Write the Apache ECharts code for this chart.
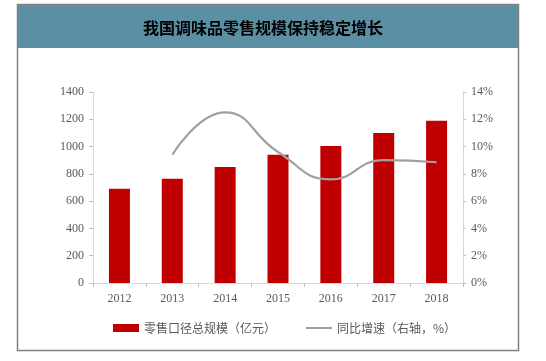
<!DOCTYPE html>
<html><head><meta charset="utf-8">
<script src="https://cdn.jsdelivr.net/npm/echarts@6/dist/echarts.min.js"></script>
<style>html,body{margin:0;padding:0;background:#fff}#c{width:546px;height:361px}</style>
</head><body><div id="c"></div>
<script>
var years = ['2012','2013','2014','2015','2016','2017','2018'];
var retailScale = [690, 765, 850, 940, 1005, 1100, 1190];
var growthRate = [null, 9.4, 12.5, 9.6, 7.6, 9.0, 8.85];
var leftTicks = [0, 200, 400, 600, 800, 1000, 1200, 1400];
var rightTicks = [0, 2, 4, 6, 8, 10, 12, 14];

var chart = echarts.init(document.getElementById('c'), null, {renderer:'canvas'});
var axisFont = {color:'#595959', fontFamily:'Liberation Serif', fontSize:12};
chart.setOption({
  animation:false,
  backgroundColor:'#fff',
  graphic:[
    {type:'rect', z:-10, shape:{x:17.5,y:4.5,width:501,height:346}, style:{fill:'#fff', stroke:'#808080', lineWidth:1.5}},
    {type:'rect', z:-9, shape:{x:18,y:5,width:500,height:43}, style:{fill:'#5b8fa4'}}
  ],
  title:{text:'我国调味品零售规模保持稳定增长', left:258, top:15, textAlign:'center',
    textStyle:{fontFamily:'Noto Sans CJK SC', fontWeight:'bold', fontSize:16, color:'#000'}},
  grid:{left:93, right:83, top:92, bottom:78},
  legend:{left:108, top:317, itemWidth:26, itemHeight:8, itemGap:30,
    textStyle:{fontFamily:'Noto Sans CJK SC', fontSize:12, color:'#595959'},
    data:[{name:'零售口径总规模（亿元）', icon:'rect'},
          {name:'同比增速（右轴，%）', icon:'path://M0,0h26v2h-26z'}]},
  xAxis:{type:'category', data:years,
    axisLine:{lineStyle:{color:'#d9d9d9'}},
    axisTick:{show:true, alignWithLabel:false, lineStyle:{color:'#bfbfbf'}, length:4},
    axisLabel:Object.assign({margin:10}, axisFont)},
  yAxis:[
    {type:'value', min:0, max:1400, interval:200,
      axisLine:{show:true, lineStyle:{color:'#d9d9d9'}},
      axisTick:{show:true, length:4, lineStyle:{color:'#bfbfbf'}},
      splitLine:{show:false},
      axisLabel:Object.assign({margin:9, formatter:function(v){return leftTicks.indexOf(v)>=0? String(v):'';}}, axisFont)},
    {type:'value', min:0, max:14, interval:2, position:'right',
      axisLine:{show:true, lineStyle:{color:'#d9d9d9'}},
      axisTick:{show:true, length:3, lineStyle:{color:'#bfbfbf'}},
      splitLine:{show:false},
      axisLabel:Object.assign({margin:8, formatter:function(v){return rightTicks.indexOf(v)>=0? v+'%':'';}}, axisFont)}
  ],
  series:[
    {name:'零售口径总规模（亿元）', type:'bar', data:retailScale, barWidth:21,
      itemStyle:{color:'#c00000'}},
    {name:'同比增速（右轴，%）', type:'line', yAxisIndex:1, data:growthRate, smooth:0.5,
      symbol:'none', connectNulls:false,
      lineStyle:{color:'#a0a0a0', width:2.2}, itemStyle:{color:'#a0a0a0'}}
  ]
});
</script></body></html>
